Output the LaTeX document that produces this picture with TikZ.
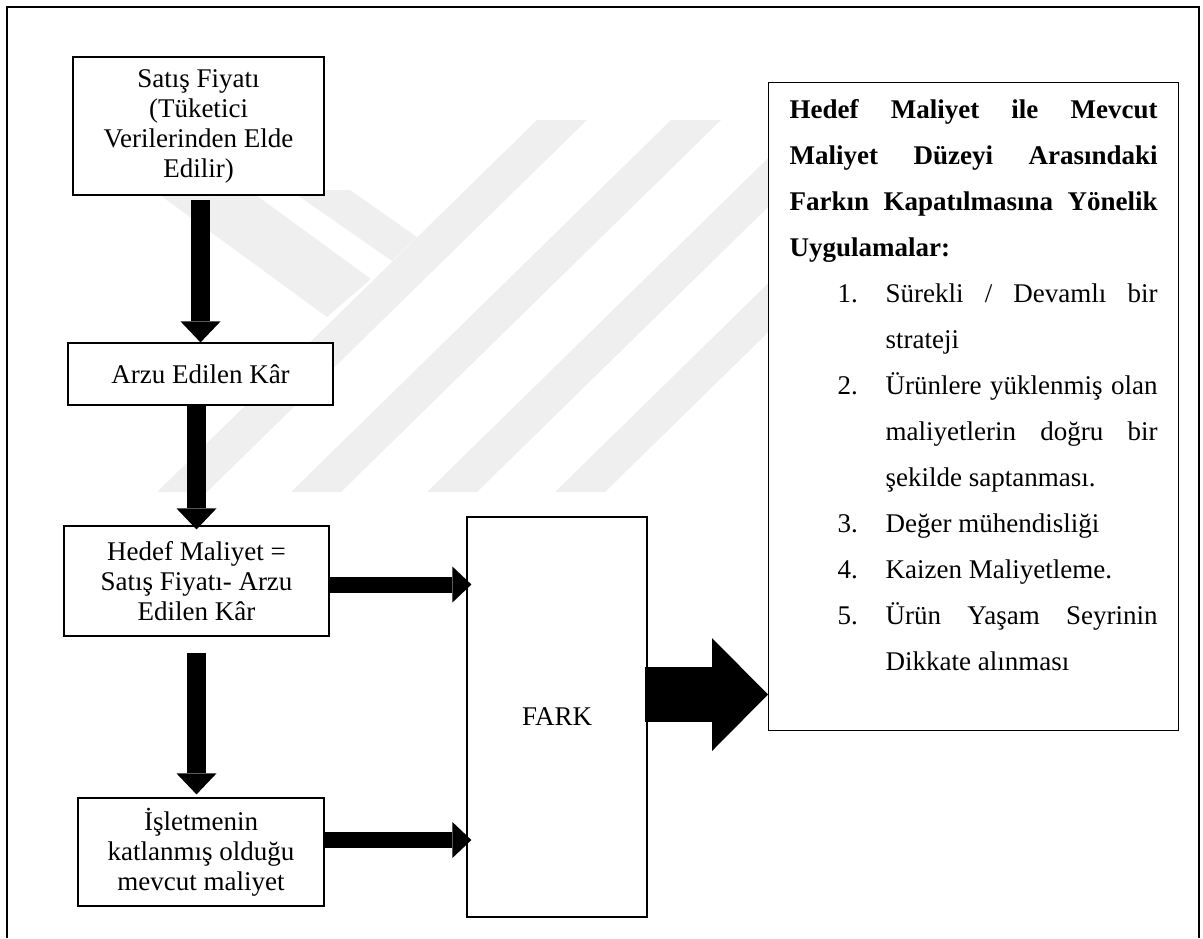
\documentclass[tikz,border=0pt]{standalone}
\usepackage{fontspec}
\setmainfont{Liberation Serif}
\usetikzlibrary{arrows.meta}
\definecolor{wmgray}{RGB}{239,239,239}
\newcommand{\planitem}[2]{\par\hangindent=48pt\hangafter=1\noindent\hspace*{24pt}\makebox[24pt][l]{#1}#2\par}

\begin{document}
\begin{tikzpicture}[x=.5pt,y=-.5pt,
 box/.style={draw,line width=.6pt,fill=white,align=center,inner sep=0pt,font=\fontsize{13.5pt}{15pt}\selectfont},
 down/.style={line width=9.5pt,-{Triangle[width=20pt,length=10.5pt,line width=0pt]}},
 side/.style={line width=8pt,-{Triangle[width=18pt,length=9.5pt,line width=0pt]}},
 big/.style={line width=27.5pt,-{Triangle[width=56.5pt,length=28pt,line width=0pt]}}]

\useasboundingbox(0,0)rectangle(1203,938);
% faint watermark bands behind the chart
\fill[wmgray](153,190)--(327,317)--(371,279)--(249,190)--cycle;
\fill[wmgray](290,190)--(350,190)--(417,237)--(392,261)--cycle;
\foreach \x in {157,291,427,555}{
 \fill[wmgray](\x,492)--++(50,0)--++(380,-372)--++(-50,0)--cycle;
}
\draw[line width=1pt](7,938)--(7,7)--(1199,7)--(1199,938);

\node[box,minimum width=125.5pt,minimum height=69pt](price)at(198.5,126){Satış Fiyatı\\(Tüketici\\Verilerinden Elde\\Edilir)};
\node[box,minimum width=132.5pt,minimum height=31pt](profit)at(200.5,374){Arzu Edilen Kâr};
\node[box,minimum width=132.5pt,minimum height=55pt](target)at(196.5,581){Hedef Maliyet =\\Satış Fiyatı- Arzu\\Edilen Kâr};
\node[box,minimum width=123pt,minimum height=54pt](current)at(201,852){İşletmenin\\katlanmış olduğu\\mevcut maliyet};
\node[box,minimum width=90pt,minimum height=200pt](gap)at(557,717){FARK};
\node[box,align=justify,anchor=north west,text width=184pt,inner xsep=10.5pt,inner ysep=0pt,text height=18pt,text depth=306pt,font=\fontsize{13.5pt}{23pt}\selectfont](plan)at(768,82){%
{\bfseries Hedef Maliyet ile Mevcut\linebreak Maliyet Düzeyi Arasındaki\linebreak Farkın Kapatılmasına Yönelik\linebreak Uygulamalar:}
\planitem{1.}{Sürekli / Devamlı bir\linebreak strateji}
\planitem{2.}{Ürünlere yüklenmiş olan\linebreak maliyetlerin doğru bir\linebreak şekilde saptanması.}
\planitem{3.}{Değer mühendisliği}
\planitem{4.}{Kaizen Maliyetleme.}
\planitem{5.}{Ürün Yaşam Seyrinin\linebreak Dikkate alınması}};

\draw[down,shorten <=2pt](profit.north |- price.south)--(profit.north);
\draw[down,shorten >=-2pt](target.north |- profit.south)--(target.north);
\draw[down,shorten <=8pt,shorten >=1.5pt](target.south)--(target.south |- current.north);
\draw[side,shorten >=-2.5pt]([yshift=-1.75pt]target.east)--([yshift=-1.75pt]target.east -| gap.west);
\coordinate(low)at([yshift=6pt]current.east);
\draw[side,shorten >=-2.5pt](low)--(low -| gap.west);
\coordinate(out)at([yshift=11.25pt]gap.east);
\draw[big,shorten <=-1.5pt](out)--(out -| plan.west);
\end{tikzpicture}
\end{document}
